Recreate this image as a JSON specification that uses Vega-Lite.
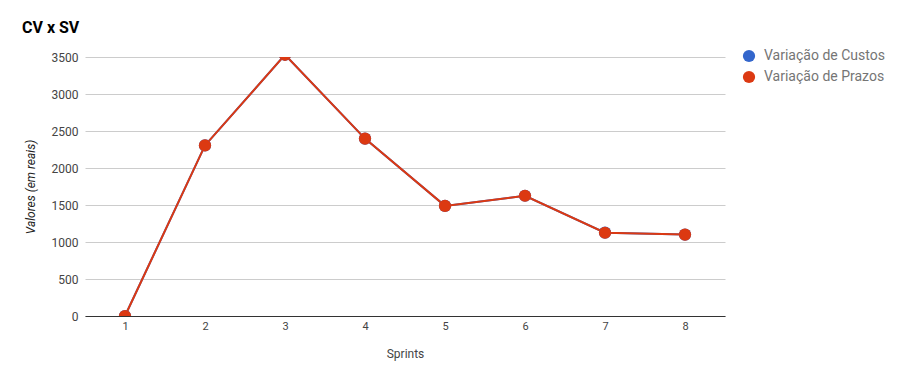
{
  "$schema": "https://vega.github.io/schema/vega-lite/v6.json",
  "autosize": "none",
  "width": 640,
  "height": 259,
  "padding": {"left": 85, "top": 57, "right": 185, "bottom": 67},
  "background": "white",
  "title": {"text": "CV x SV", "anchor": "start", "frame": "group", "dx": -63, "offset": 13, "font": "Roboto", "fontSize": 16, "fontWeight": "bold", "color": "#000000"},
  "data": {"values": [
    {"sprint": "1", "serie": "Variação de Custos", "valor": 0},
    {"sprint": "2", "serie": "Variação de Custos", "valor": 2305},
    {"sprint": "3", "serie": "Variação de Custos", "valor": 3530},
    {"sprint": "4", "serie": "Variação de Custos", "valor": 2397},
    {"sprint": "5", "serie": "Variação de Custos", "valor": 1488},
    {"sprint": "6", "serie": "Variação de Custos", "valor": 1625},
    {"sprint": "7", "serie": "Variação de Custos", "valor": 1126},
    {"sprint": "8", "serie": "Variação de Custos", "valor": 1100},
    {"sprint": "1", "serie": "Variação de Prazos", "valor": 0},
    {"sprint": "2", "serie": "Variação de Prazos", "valor": 2305},
    {"sprint": "3", "serie": "Variação de Prazos", "valor": 3530},
    {"sprint": "4", "serie": "Variação de Prazos", "valor": 2397},
    {"sprint": "5", "serie": "Variação de Prazos", "valor": 1488},
    {"sprint": "6", "serie": "Variação de Prazos", "valor": 1625},
    {"sprint": "7", "serie": "Variação de Prazos", "valor": 1125},
    {"sprint": "8", "serie": "Variação de Prazos", "valor": 1100}
  ]},
  "encoding": {
    "x": {"field": "sprint", "type": "ordinal", "sort": null,
      "scale": {"type": "point", "padding": 0.5},
      "axis": {"title": "Sprints", "labelAngle": 0, "labelFont": "Roboto", "labelFontSize": 11, "labelColor": "#444444", "labelPadding": 4, "ticks": false, "domainColor": "#333333", "domainWidth": 1, "grid": false, "titleFont": "Roboto", "titleFontSize": 12, "titleFontWeight": "normal", "titleColor": "#444444", "titlePadding": 17}},
    "y": {"field": "valor", "type": "quantitative",
      "scale": {"domain": [0, 3500], "nice": false, "zero": true},
      "axis": {"title": "Valores (em reais)", "values": [0, 500, 1000, 1500, 2000, 2500, 3000, 3500], "format": "d", "labelFont": "Roboto", "labelFontSize": 12, "labelColor": "#444444", "labelPadding": 7, "ticks": false, "domain": false, "gridColor": "#cccccc", "gridWidth": 1, "titleFont": "Roboto", "titleFontSize": 12, "titleFontStyle": "italic", "titleFontWeight": "normal", "titleColor": "#222222", "titlePadding": 14}},
    "color": {"field": "serie", "type": "nominal",
      "scale": {"domain": ["Variação de Custos", "Variação de Prazos"], "range": ["#3366cc", "#dc3912"]},
      "legend": {"title": null, "orient": "none", "legendX": 657, "legendY": -8, "symbolType": "circle", "symbolSize": 150, "symbolStrokeWidth": 0, "labelFont": "Roboto", "labelFontSize": 14, "labelColor": "#757575", "rowPadding": 7, "labelOffset": 8}}
  },
  "layer": [
    {"mark": {"type": "line", "strokeWidth": 2, "clip": true}},
    {"mark": {"type": "point", "filled": true, "size": 150, "opacity": 1, "clip": true}}
  ],
  "config": {"view": {"stroke": null}}
}
